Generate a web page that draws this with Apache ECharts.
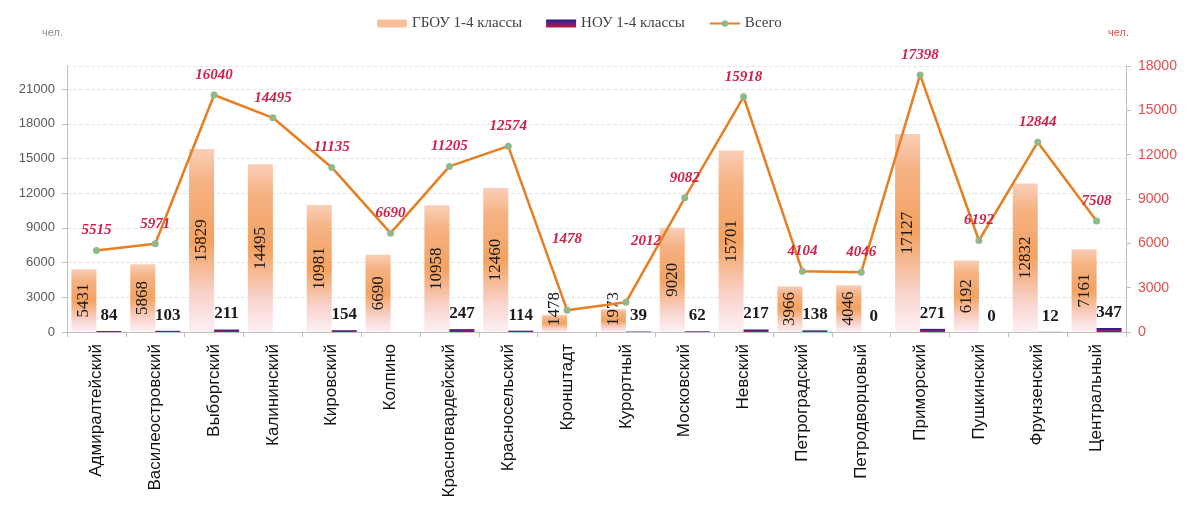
<!DOCTYPE html>
<html>
<head>
<meta charset="utf-8">
<script src="https://cdn.jsdelivr.net/npm/echarts@6/dist/echarts.min.js"></script>
<style>
html,body{margin:0;padding:0;background:#fff;}
#chart{width:1195px;height:518px;}
</style>
</head>
<body>
<div id="chart"></div>
<script>
const categories = ['Адмиралтейский','Василеостровский','Выборгский','Калининский','Кировский','Колпино','Красногвардейский','Красносельский','Кронштадт','Курортный','Московский','Невский','Петроградский','Петродворцовый','Приморский','Пушкинский','Фрунзенский','Центральный'];
const gbou = [5431,5868,15829,14495,10981,6690,10958,12460,1478,1973,9020,15701,3966,4046,17127,6192,12832,7161];
const nou = [84,103,211,null,154,null,247,114,null,39,62,217,138,0,271,0,12,347];
const total = [5515,5971,16040,14495,11135,6690,11205,12574,1478,2012,9082,15918,4104,4046,17398,6192,12844,7508];
const leftTicks = {min:0, max:23000, interval:3000};
const rightTicks = {min:0, max:18000, interval:3000};

const labelTweaks = {8:{offset:[0,-51]}, 9:{offset:[20,-41]}};

const chart = echarts.init(document.getElementById('chart'));
const serif = 'Liberation Serif';
const sans = 'Liberation Sans';

const gbouColor = new echarts.graphic.LinearGradient(0,0,0,1,[
  {offset:0, color:'#f9cfb8'},
  {offset:0.18, color:'#f6b283'},
  {offset:0.5, color:'#f3a261'},
  {offset:0.8, color:'#f9d3cc'},
  {offset:1, color:'#fdf1f4'}
]);
const nouColor = new echarts.graphic.LinearGradient(0,0,0,1,[
  {offset:0, color:'#231c8e'},
  {offset:0.5, color:'#6a1f7a'},
  {offset:1, color:'#c4123c'}
]);

const gbouData = gbou.map(v => v < 3000 ? {value:v, label:{position:'insideBottom', align:'left', verticalAlign:'middle', distance:6}} : v);
const totalData = total.map((v,i) => labelTweaks[i] ? {value:v, label:labelTweaks[i]} : v);
const plain = v => String(v);

chart.setOption({
  animation:false,
  textStyle:{fontFamily:serif},
  legend:{
    top:11, left:372, itemGap:24, itemWidth:30, itemHeight:8,
    textStyle:{fontFamily:serif, fontSize:15, color:'#404040'},
    data:[
      {name:'ГБОУ 1-4 классы', icon:'roundRect', itemStyle:{color:'#f8c09a'}},
      {name:'НОУ 1-4 классы', icon:'rect', itemStyle:{color:nouColor}},
      {name:'Всего'}
    ]
  },
  graphic:[
    {type:'text', left:42, top:27, style:{text:'чел.', fill:'#8c8c8c', font:'11px "Liberation Sans"'}},
    {type:'text', left:1108, top:27, style:{text:'чел.', fill:'#e05050', font:'11px "Liberation Sans"'}}
  ],
  grid:{left:67, right:69, top:66, bottom:186},
  xAxis:{
    type:'category', data:categories,
    axisLine:{lineStyle:{color:'#bfbfbf'}},
    axisTick:{show:true, length:5, lineStyle:{color:'#bfbfbf'}},
    axisLabel:{rotate:90, interval:0, margin:12, fontFamily:sans, fontSize:17, color:'#111'}
  },
  yAxis:[
    {type:'value', min:leftTicks.min, max:leftTicks.max, interval:leftTicks.interval,
     axisLine:{show:true, lineStyle:{color:'#bfbfbf'}},
     axisTick:{show:true, length:5, lineStyle:{color:'#bfbfbf'}},
     axisLabel:{showMaxLabel:false, margin:12, fontFamily:sans, fontSize:13, color:'#595959', formatter:plain},
     splitLine:{show:true, lineStyle:{color:'#e6e6e6', type:'dashed'}}
    },
    {type:'value', position:'right', min:rightTicks.min, max:rightTicks.max, interval:rightTicks.interval,
     axisLine:{show:true, lineStyle:{color:'#bfbfbf'}},
     axisTick:{show:true, length:5, lineStyle:{color:'#bfbfbf'}},
     axisLabel:{margin:12, fontFamily:sans, fontSize:14, color:'#e05050', formatter:plain},
     splitLine:{show:false}
    }
  ],
  series:[
    {name:'ГБОУ 1-4 классы', type:'bar', yAxisIndex:0, data:gbouData,
     barGap:'0%', barCategoryGap:'15%',
     itemStyle:{color:gbouColor},
     label:{show:true, position:'inside', rotate:90, fontFamily:serif, fontSize:17, color:'#1a1a1a'}
    },
    {name:'НОУ 1-4 классы', type:'bar', yAxisIndex:0, data:nou,
     itemStyle:{color:nouColor},
     label:{show:true, position:'top', distance:7, fontFamily:serif, fontWeight:'bold', fontSize:17, color:'#1a1a1a'}
    },
    {name:'Всего', type:'line', yAxisIndex:1, data:totalData,
     symbol:'circle', symbolSize:7,
     lineStyle:{color:'#e67e22', width:2.5},
     itemStyle:{color:'#8fb98a'},
     label:{show:true, position:'top', distance:9, fontFamily:serif, fontStyle:'italic', fontWeight:'bold', fontSize:15, color:'#d11f4a'}
    }
  ]
});
</script>
</body>
</html>
